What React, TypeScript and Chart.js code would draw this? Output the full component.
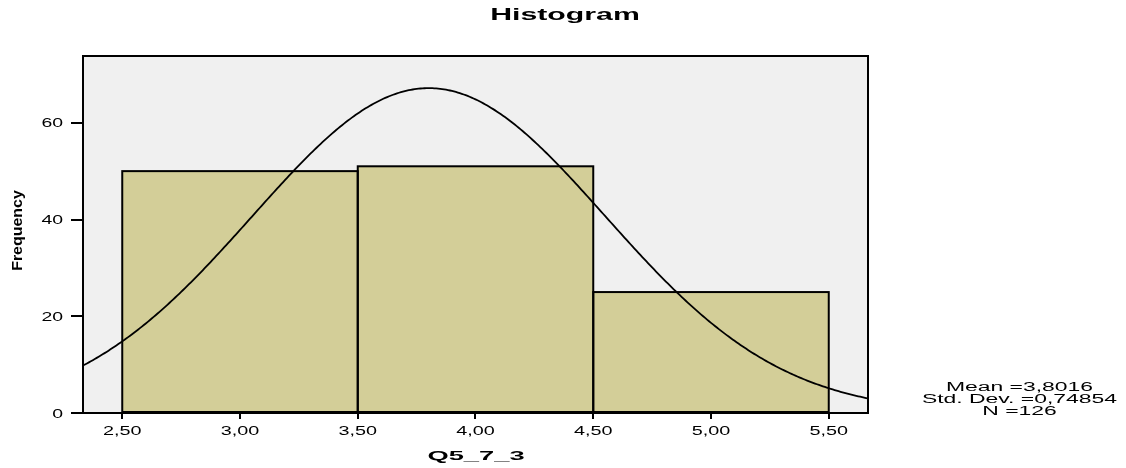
import React, { useEffect, useRef } from "react";
import { Chart, registerables } from "chart.js";

Chart.register(...registerables);

// Histogram bins (centres and counts)
const binCenters = [3.0, 4.0, 5.0];
const binCounts = [50, 51, 25];
const binWidth = 1;

// Summary statistics shown beside the plot; the normal curve uses them
const sampleMean = 3.8016;
const sampleStdDev = 0.74854;
const sampleSize = 126;

// Axis ranges and ticks
const xMin = 2.5 - 1 / 6;
const xMax = 5.5 + 1 / 6;
const xStep = 0.5;
const yMin = 0;
const yMax = 73.8;
const yStep = 20;

const chartTitle = "Histogram";
const xTitle = "Q5_7_3";
const yTitle = "Frequency";

const FONT = '"Liberation Sans", Arial, sans-serif';
const FRAME_BG = "#f0f0f0";
const BAR_FILL = "#d3ce98";
const INK = "#000000";

const fmtComma = (v: number, digits: number) => v.toFixed(digits).replace(".", ",");

const statLines = [
  `Mean =${fmtComma(sampleMean, 4)}`,
  `Std. Dev. =${fmtComma(sampleStdDev, 5)}`,
  `N =${sampleSize}`,
];

// Expected frequency per bin under a normal distribution with the sample stats
function normalCurvePoints(steps: number) {
  const pts: { x: number; y: number }[] = [];
  const scale = (sampleSize * binWidth) / (sampleStdDev * Math.sqrt(2 * Math.PI));
  for (let i = 0; i <= steps; i++) {
    const x = xMin + ((xMax - xMin) * i) / steps;
    const z = (x - sampleMean) / sampleStdDev;
    pts.push({ x, y: scale * Math.exp(-0.5 * z * z) });
  }
  return pts;
}

function drawStretched(
  ctx: CanvasRenderingContext2D,
  text: string,
  x: number,
  y: number,
  font: string,
  sx: number,
  align: CanvasTextAlign
) {
  ctx.save();
  ctx.font = font;
  ctx.fillStyle = INK;
  ctx.textAlign = align;
  ctx.textBaseline = "alphabetic";
  ctx.translate(x, y);
  ctx.scale(sx, 1);
  ctx.fillText(text, 0, 0);
  ctx.restore();
}

const histogramDecor = {
  id: "histogramDecor",
  beforeDraw(chart: any) {
    const { ctx, chartArea: a } = chart;
    ctx.save();
    ctx.fillStyle = FRAME_BG;
    ctx.fillRect(a.left, a.top, a.right - a.left, a.bottom - a.top);
    ctx.restore();
  },
  beforeDatasetsDraw(chart: any) {
    const { ctx, chartArea: a } = chart;
    ctx.save();
    ctx.strokeStyle = INK;
    ctx.lineWidth = 2;
    ctx.strokeRect(a.left, a.top, a.right - a.left, a.bottom - a.top);
    ctx.restore();
  },
  afterDatasetDraw(chart: any, args: any) {
    if (args.meta.type !== "bar") return;
    const { ctx } = chart;
    ctx.save();
    ctx.strokeStyle = INK;
    ctx.lineWidth = 2;
    for (const el of args.meta.data) {
      const p = el.getProps(["x", "y", "base", "width"], true);
      ctx.strokeRect(p.x - p.width / 2, p.y, p.width, p.base - p.y);
    }
    ctx.restore();
  },
  afterDraw(chart: any) {
    const { ctx, scales } = chart;
    const xs = scales.x;
    const ys = scales.y;
    const tickFont = `12px ${FONT}`;

    for (const t of ys.ticks) {
      const py = ys.getPixelForValue(t.value);
      drawStretched(ctx, String(t.value), 63, py + 4.5, tickFont, 1.62, "right");
    }
    for (const t of xs.ticks) {
      const px = xs.getPixelForValue(t.value);
      drawStretched(ctx, fmtComma(t.value, 2), px, 435, tickFont, 1.65, "center");
    }

    drawStretched(ctx, chartTitle, 565, 20, `bold 16px ${FONT}`, 1.89, "center");
    drawStretched(ctx, xTitle, 476, 460, `bold 13px ${FONT}`, 2.1, "center");

    // rotated y-axis title
    ctx.save();
    ctx.font = `bold 14px ${FONT}`;
    ctx.fillStyle = INK;
    ctx.textAlign = "center";
    ctx.textBaseline = "alphabetic";
    ctx.translate(21.5, 230.5);
    ctx.rotate(-Math.PI / 2);
    ctx.scale(1.14, 1);
    ctx.fillText(yTitle, 0, 0);
    ctx.restore();

    const statBaselines = [390.5, 402.5, 414.5];
    statLines.forEach((line, i) => {
      drawStretched(ctx, line, 1019.5, statBaselines[i], `12px ${FONT}`, 1.91, "center");
    });
  },
};

export default function App() {
  const canvasRef = useRef<HTMLCanvasElement | null>(null);

  useEffect(() => {
    const canvas = canvasRef.current;
    if (!canvas) return;

    const chart = new Chart(canvas, {
      type: "bar",
      data: {
        datasets: [
          {
            type: "line",
            label: "Normal",
            data: normalCurvePoints(400),
            xAxisID: "x",
            yAxisID: "y",
            borderColor: INK,
            borderWidth: 1.8,
            pointRadius: 0,
            fill: false,
            tension: 0,
            order: 0,
          } as any,
          {
            type: "bar",
            label: "Frequency",
            data: binCenters.map((c, i) => ({ x: c, y: binCounts[i] })),
            xAxisID: "xb",
            yAxisID: "y",
            backgroundColor: BAR_FILL,
            borderWidth: 0,
            grouped: false,
            barPercentage: 1,
            categoryPercentage: 1,
            order: 1,
          } as any,
        ],
      },
      options: {
        animation: false,
        responsive: true,
        maintainAspectRatio: false,
        layout: { padding: { left: 71, right: 258, top: 56, bottom: 49 } },
        plugins: {
          legend: { display: false },
          title: { display: false },
          tooltip: { enabled: false },
        },
        scales: {
          x: {
            type: "linear",
            position: "bottom",
            min: xMin,
            max: xMax,
            offset: false,
            ticks: { display: false, stepSize: xStep, includeBounds: false },
            grid: {
              offset: false,
              drawOnChartArea: false,
              drawTicks: true,
              tickLength: 6,
              color: INK,
              lineWidth: 2,
            },
            border: { display: true, color: INK, width: 2 },
          },
          xb: {
            type: "linear",
            display: false,
            min: xMin,
            max: xMax,
            offset: false,
            ticks: { stepSize: binWidth, includeBounds: false },
            grid: { offset: false },
          },
          y: {
            type: "linear",
            position: "left",
            min: yMin,
            max: yMax,
            ticks: { display: false, stepSize: yStep, includeBounds: false },
            grid: {
              drawOnChartArea: false,
              drawTicks: true,
              tickLength: 12,
              color: INK,
              lineWidth: 2,
            },
            border: { display: true, color: INK, width: 2 },
          },
        } as any,
      },
      plugins: [histogramDecor],
    });

    return () => chart.destroy();
  }, []);

  return (
    <div style={{ position: "absolute", left: 0, top: 0, width: 1126, height: 468, background: "#ffffff" }}>
      <canvas ref={canvasRef} />
    </div>
  );
}
